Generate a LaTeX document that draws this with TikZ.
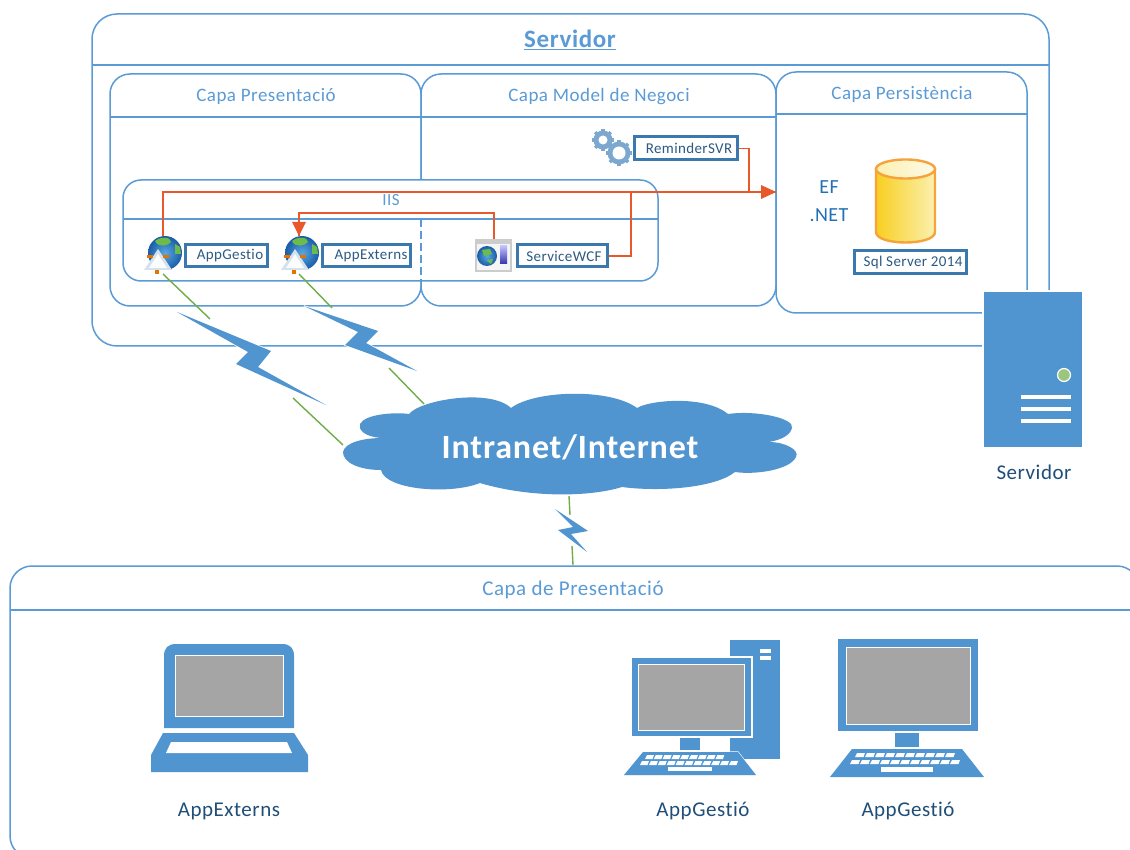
\documentclass[tikz,border=0pt]{standalone}
\usepackage{fontspec}
\usetikzlibrary{calc}
\setmainfont{Carlito}[LetterSpace=2.5,Ligatures=CommonOff]
\definecolor{lnblue}{HTML}{5B9BD5}
\definecolor{fillblue}{HTML}{5094D0}
\definecolor{boxblue}{HTML}{3A78AE}
\definecolor{txtblue}{HTML}{5B9BD5}
\definecolor{txtdark}{HTML}{1F4E79}
\definecolor{orangeln}{HTML}{E8582A}
\definecolor{greenln}{HTML}{70AD47}
\definecolor{scrgrey}{HTML}{A5A5A5}
\definecolor{globein}{HTML}{58A8E2}
\definecolor{globeout}{HTML}{1A5CA6}
\definecolor{globegr}{HTML}{6DBB4A}
\definecolor{gearblue}{HTML}{7CA8D0}
\definecolor{cylline}{HTML}{F5A33C}
\definecolor{cylleft}{HTML}{F8CF20}
\definecolor{cylright}{HTML}{FBF0B0}
\definecolor{eftxt}{HTML}{2470B5}
\definecolor{trilight}{HTML}{D5E2EE}
\tikzset{
 panel/.style={draw=lnblue,line width=1.5pt,fill=white},
 hdr/.style={draw=lnblue,line width=1.5pt},
 captxt/.style={text=txtblue,font=\fontsize{19}{22}\selectfont,inner sep=0pt},
 tagbox/.style={draw=boxblue,line width=3pt,fill=white,inner sep=0pt,minimum height=22pt},
 tagtxt/.style={text=boxblue!75!black,font=\fontsize{15}{17}\selectfont,inner sep=0pt},
 captn/.style={text=txtdark,font=\fontsize{21}{24}\selectfont,inner sep=0pt},
 orl/.style={draw=orangeln,line width=1.6pt},
 orlmain/.style={draw=orangeln,line width=2pt},
 grn/.style={draw=greenln,line width=1.4pt},
 solidblue/.style={fill=fillblue,draw=none},
 bolt/.style={preaction={draw=white,line width=1.5pt},fill=fillblue,draw=none},
 screen/.style={fill=scrgrey,draw=white,line width=1pt},
 wkey/.style={fill=white,draw=none},
 anchorblob/.style={inner sep=0pt,minimum size=#1,circle}
}
\newcommand{\globeicon}[2]{%
 \shade[inner color=globein,outer color=globeout] (#1,#2) circle (17);
 \fill[globegr] (#1-10,#2-12) .. controls (#1-4,#2-17) and (#1+6,#2-16) .. (#1+6,#2-11) .. controls (#1+3,#2-7) and (#1-7,#2-5) .. cycle;
 \fill[globegr] (#1+10,#2-9) -- (#1+15,#2-6) -- (#1+16,#2+1) -- (#1+10,#2+1) -- cycle;
 \fill[trilight] (#1-7,#2-4) -- (#1+7,#2+17) -- (#1-21,#2+17) -- cycle;
 \fill[white!90!trilight] (#1-7,#2+1) -- (#1+2,#2+15) -- (#1-16,#2+15) -- cycle;
 \fill[orange!90!black] (#1-18,#2+2) rectangle (#1-12,#2+5);
 \fill[orange!90!black] (#1-2,#2+2) rectangle (#1+4,#2+5);
 \fill[orange!90!black] (#1-10,#2+17) rectangle (#1-6,#2+21);
}
\begin{document}
\begin{tikzpicture}[x=1pt,y=-1pt]
\useasboundingbox (0,0) rectangle (1130,850);
\fill[white] (0,0) rectangle (1130,850);
% outer server
\draw[panel,rounded corners=25] (92,14) rectangle (1049,346);
\draw[hdr] (92,65) -- (1049,65);
\node[font=\bfseries\fontsize{25}{28}\selectfont,text=txtblue,inner sep=0pt] (titleS) at (570,40) {\underline{Servidor}};
% layers
\draw[panel,rounded corners=20] (110,74) rectangle (421,306);
\draw[panel,rounded corners=20] (421,74) rectangle (776,306);
\draw[panel,rounded corners=20] (776,72) rectangle (1027,313);
\draw[hdr] (110,117) -- (776,117);
\draw[hdr] (776,114) -- (1027,114);
\node[captxt] (capA) at (266,96.5) {Capa Presentació};
\node[captxt] (capB) at (599,96.5) {Capa Model de Negoci};
\node[captxt] (capC) at (902,94) {Capa Persistència};
% IIS
\draw[panel,rounded corners=18] (123,180) rectangle (658,281);
\draw[hdr] (123,219) -- (658,219);
\draw[hdr,dash pattern=on 8pt off 4pt] (421,219) -- (421,281);
\node[font=\fontsize{17}{19}\selectfont,text=txtblue,inner sep=0pt] (iis) at (391,200) {IIS};
% icons
\globeicon{165}{253}
\globeicon{302}{253}
\node[anchorblob=28pt] (g1) at (163,250) {};
\node[anchorblob=28pt] (g2) at (299,250) {};
\fill[gray!40] (475,239) rectangle (512,272);
\fill[white!92!gray] (477,244) rectangle (510,270);
\shade[inner color=globein,outer color=globeout] (487,256) circle (10);
\fill[globegr] (482,250) -- (490,249) -- (492,254) -- (484,256) -- cycle;
\fill[globegr] (486,260) -- (493,259) -- (491,264) -- cycle;
\shade[top color=blue!25,bottom color=blue!60!black!80] (500,246) rectangle (507,264);
\node[inner sep=0pt,minimum width=37pt,minimum height=33pt] (win) at (494,255.5) {};
% gears
\foreach \cx/\cy/\rr in {603/140/11,619/153/13}{
 \foreach \a in {0,45,...,315}
  \draw[line width=3.4pt,draw=gearblue] (\cx,\cy) ++(\a:\rr-3) -- ++(\a:3);
 \fill[gearblue] (\cx,\cy) circle (\rr-1.5);
 \fill[white] (\cx,\cy) circle (\rr-6.5);
}
% tags
\node[tagbox,minimum width=82pt] (t1) at (226,256) {};
\node[tagtxt] (t1txt) at (230,256) {AppGestio};
\node[tagbox,minimum width=88pt] (t2) at (366,256) {};
\node[tagtxt] (t2txt) at (371,256) {AppExterns};
\node[tagbox,minimum width=90pt] (t3) at (562,256) {};
\node[tagtxt] (t3txt) at (564,256) {ServiceWCF};
\node[tagbox,minimum width=103pt,minimum height=23pt] (t4) at (685.5,148.5) {};
\node[tagtxt] (t4txt) at (689,148.5) {ReminderSVR};
\node[tagbox,minimum width=112pt,minimum height=23pt] (t5) at (910,262.5) {};
\node[tagtxt] (t5txt) at (913,262.5) {Sql Server 2014};
% cylinder
\shade[left color=cylleft,right color=cylright,draw=cylline,line width=2.4pt]
 (876,169) -- (876,232) .. controls (876,246) and (935,246) .. (935,232) -- (935,169) -- cycle;
\shade[left color=cylright,right color=white!70!cylright,draw=cylline,line width=2.4pt] (905.5,169) ellipse (29.5 and 9.5);
\node[inner sep=0pt,minimum width=59pt,minimum height=84pt] (cyl) at (905.5,201) {};
\node[text=eftxt,font=\fontsize{20}{22}\selectfont,inner sep=0pt] (ef) at (829,187) {EF};
\node[text=eftxt,font=\fontsize{20}{22}\selectfont,inner sep=0pt] (net) at (829,215) {.NET};
% orange connectors
\coordinate (pers) at (776,192);
\coordinate (j1) at (749,192);
\coordinate (j2) at (631,192);
\draw[orlmain] (g1.north) |- (pers);
\fill[orangeln] (pers) -- ++(-15,-7) -- ++(0,14) -- cycle;
\draw[orl] (t4.east) -| (j1);
\draw[orl] (t3.east) -| (j2);
\coordinate (wtop) at (494,213);
\draw[orl] (win.north) -- (wtop) -| (g2.north);
\fill[orangeln] (g2.north) -- ++(-7,-14) -- ++(14,0) -- cycle;
% server
\fill[fillblue,draw=white,line width=1.5pt] (983,291) rectangle (1083,448);
\node[circle,fill=greenln!70!white,draw=white,line width=1.2pt,minimum size=13pt,inner sep=0pt] (led) at (1064,375) {};
\foreach \yy in {397,409,421} \fill[white] (1021,\yy-2) rectangle (1071,\yy+2);
\node[captn] (srvcap) at (1034,472) {Servidor};
% cloud
\path[fill=fillblue] (409,414)
 .. controls (420,400) and (490,388) .. (511,408)
 .. controls (535,390) and (610,388) .. (637,408)
 .. controls (650,400) and (705,395) .. (728,414)
 .. controls (755,410) and (795,418) .. (792,428)
 .. controls (790,436) and (780,440) .. (769,442)
 .. controls (785,442) and (800,450) .. (796,457)
 .. controls (790,470) and (755,475) .. (735,472)
 .. controls (715,488) and (660,492) .. (622,487)
 .. controls (590,497) and (530,498) .. (480,483)
 .. controls (450,495) and (385,490) .. (381,470)
 .. controls (360,470) and (343,463) .. (343,452)
 .. controls (345,442) and (365,438) .. (382,438)
 .. controls (365,437) and (358,430) .. (360,424)
 .. controls (365,414) and (395,412) .. (409,414) -- cycle;
\node[font=\bfseries\fontsize{34}{38}\selectfont,text=white,inner sep=0pt] (cloud) at (570,447) {Intranet/Internet};
% green segments
\coordinate (a0) at (163,274); \coordinate (b0) at (299,274);
\coordinate (a1) at (210,319); \coordinate (a2) at (293,398); \coordinate (a3) at (343,445);
\coordinate (b1) at (332,308); \coordinate (b2) at (389,368); \coordinate (b3) at (424,404);
\coordinate (c1) at (569,496); \coordinate (c2) at (570,515); \coordinate (c3) at (572,546); \coordinate (c4) at (573,565);
\draw[grn] (a0) -- (a1);
\draw[grn] (a2) -- (a3);
\draw[grn] (b0) -- (b1);
\draw[grn] (b2) -- (b3);
\draw[grn] (c1) -- (c2);
\draw[grn] (c3) -- (c4);
% bolts
\path[bolt] (177,312) -- (271,351) -- (258,367) -- (326,405) -- (236,364) -- (248,352) -- cycle;
\path[bolt] (304,306) -- (378,331) -- (366,343) -- (417,371) -- (345,345) -- (358,332) -- cycle;
\path[bolt] (555,509) -- (588,531) -- (571,534) -- (587,552) -- (558,530) -- (573,527) -- cycle;
% bottom panel
\draw[draw=lnblue,line width=1.5pt,rounded corners=22] (10,566) rectangle (1139,858);
\draw[hdr] (10,610) -- (1130,610);
\node[captxt,font=\fontsize{21}{24}\selectfont] (capD) at (573,589.5) {Capa de Presentació};
% laptop
\fill[fillblue] (164,728) -- (164,656) .. controls (164,648) and (168,644) .. (176,644) -- (282,644) .. controls (290,644) and (294,648) .. (294,656) -- (294,728) -- cycle;
\path[screen] (175,655) rectangle (283,716);
\path[solidblue] (163,733) -- (294,733) -- (308,755) -- (308,772) -- (151,772) -- (151,755) -- cycle;
\fill[white] (171,742) -- (287,742) -- (292,753) -- (166,753) -- cycle;
\node[captn] (capL) at (229,811) {AppExterns};
% desktop
\path[solidblue] (730,640) rectangle (780,759);
\fill[white] (760,649) rectangle (771,653);
\fill[white] (760,656) rectangle (771,660);
\fill[fillblue,draw=white,line width=1.2pt] (631,657) rectangle (752,737);
\path[screen] (638,664) rectangle (744,730);
\path[solidblue] (680,738) rectangle (700,750);
\fill[fillblue,draw=white,line width=1.2pt] (643,752) -- (738,752) -- (756,775) -- (624,775) -- cycle;
\fill[fillblue] (643,752) -- (738,752) -- (756,775) -- (624,775) -- cycle;
\foreach \i in {0,...,8} \fill[wkey] (647+\i*8.8,755) -- (654+\i*8.8,755) -- (652.5+\i*8.8,759) -- (645+\i*8.8,759) -- cycle;
\foreach \i in {0,...,10} \fill[wkey] (642+\i*8.9,761) -- (649+\i*8.9,761) -- (647.5+\i*8.9,765) -- (640+\i*8.9,765) -- cycle;
\fill[white] (668,767) rectangle (712,771);
\node[captn] (capG1) at (703,811) {AppGestió};
% monitor
\path[solidblue] (838,639) rectangle (978,731);
\path[screen] (846,647) rectangle (970,724);
\path[solidblue] (895,733) rectangle (919,747);
\path[solidblue] (852,749) -- (962,749) -- (984,777) -- (830,777) -- cycle;
\foreach \i in {0,...,9} \fill[wkey] (857+\i*10,753) -- (865+\i*10,753) -- (863.5+\i*10,757) -- (855+\i*10,757) -- cycle;
\foreach \i in {0,...,10} \fill[wkey] (852+\i*10,760) -- (860+\i*10,760) -- (858.5+\i*10,764) -- (850+\i*10,764) -- cycle;
\fill[white] (881,767) rectangle (933,772);
\node[captn] (capG2) at (908,811) {AppGestió};
\end{tikzpicture}
\end{document}
